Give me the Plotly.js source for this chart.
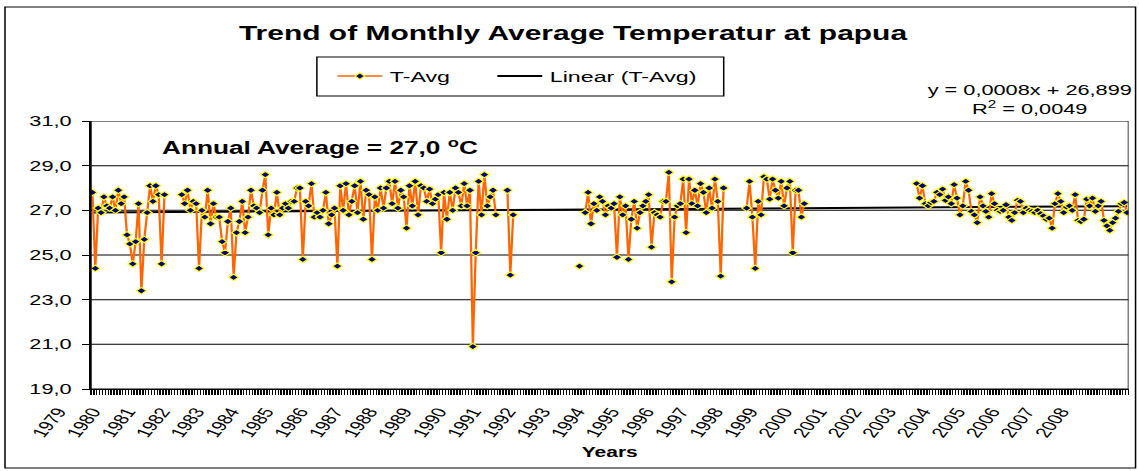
<!DOCTYPE html>
<html><head><meta charset="utf-8">
<script src="https://cdn.plot.ly/plotly-3.0.1.min.js"></script>
<style>
html,body{margin:0;padding:0;background:#fff;overflow:hidden}
#wrap{width:1139px;height:471px;overflow:hidden}
#chart{width:760px;height:471px;transform:scaleX(1.498684);transform-origin:0 0}
</style></head><body><div id="wrap"><div id="chart"></div></div>
<script>
// ---- data (months counted from Jan 1979 = 0) ----
const seriesName = 'T-Avg';
const trendName = 'Linear (T-Avg)';
const seg1Start = 0;     // Jan 1979
const seg1 = [
 27.8, 24.4, 27.1, 26.9, 27.6, 27.2, 27.1, 27.6, 27.0, 27.9, 27.3, 27.6,
 25.9, 25.5, 24.6, 25.6, 27.3, 23.4, 25.7, 26.9, 28.1, 27.4, 28.1, 27.7,
 24.6, 27.7, null, null, null, null, null, 27.7, 27.3, 27.9, 27.0, 27.4,
 27.3, 24.4, 27.0, 26.7, 27.9, 26.4, 27.3, 26.7, 26.7, 25.6, 25.1, 26.5,
 27.1, 24.0, 26.0, 26.5, 27.4, 26.0, 26.7, 27.9, 27.2, 27.1, 26.9, 27.9,
 28.6, 25.9, 27.1, 26.8, 27.8, 26.8, 27.1, 27.3, 27.1, 27.4, 27.4, 28.0,
 28.0, 24.8, 27.4, 27.2, 28.2, 26.7, 26.9, 26.7, 27.0, 27.8, 26.4, 26.8,
 27.1, 24.5, 28.1, 27.0, 28.2, 26.8, 27.4, 28.1, 26.9, 28.3, 26.6, 27.9,
 27.7, 24.8, 27.6, 27.0, 28.0, 27.1, 28.0, 28.3, 27.3, 28.3, 27.1, 27.9,
 27.6, 26.2, 28.1, 27.2, 28.3, 26.8, 28.1, 28.0, 27.4, 27.95, 27.3, 27.5,
 27.7, 25.1, 27.8, 26.6, 27.8, 27.0, 28.0, 27.8, 27.2, 28.2, 27.2, 27.9,
 20.9, 25.1, 28.3, 26.8, 28.6, 27.2, 27.6, 27.9, 26.8, null, null, null,
 27.9, 24.1, 26.8
];
const seg2Start = 169;   // Feb 1993
const seg2 = [
 24.5, null, 26.9, 27.8, 26.4, 27.3, 27.0, 27.6, 27.4, 26.8, 27.2, 27.1,
 27.3, 24.9, 27.6, 26.8, 27.2, 24.8, 26.6, 27.4, 26.2, 26.9, 27.2, 27.4,
 27.7, 25.35, 26.9, 26.8, 26.7, 27.4, 27.4, 28.7, 23.8, 26.7, 27.2, 27.3,
 28.4, 26.0, 28.4, 27.3, 27.9, 27.2, 28.2, 27.8, 26.9, 28.0, 27.1, 28.4,
 27.4, 24.05, 28.0, null, null, null, null, null, null, null, 27.1, 28.3, 26.7,
 24.4, 27.4, 26.8, 28.5, 28.4, 27.5, 28.4, 27.9, 27.55, 28.3, 27.2, 28.0,
 28.3, 25.1, 27.9, 27.9, 26.7, 27.3
];
const seg3Start = 286;   // Nov 2002
const seg3 = [
 28.2, 27.55, 28.1, 27.3, 27.2, 27.35, 27.4, 27.8, 27.7, 27.95, 27.45, 27.6,
 27.3, 28.15, 27.55, 26.8, 27.2, 28.3, 27.9, 26.95, 26.8, 26.45, 27.6, 27.2,
 26.95, 26.7, 27.75, 27.3, 27.0, 26.95, 27.0, 27.25, 26.7, 26.55, 26.9, 27.45,
 27.4, 26.9, 27.1, 27.0, 26.95, 26.9, 27.0, 26.85, 26.75, 26.6, 26.65, 26.2,
 27.3, 27.75, 27.4, 26.9, 27.15, 27.2, 27.0, 27.7, 26.55, 26.5, 26.6, 27.5,
 27.2, 27.55, 26.95, 27.2, 27.4, 26.55, 26.3, 26.1, 26.45, 26.65, 26.95, 27.3,
 27.35, 26.9
];
const totalMonths = 360;
const yearLabels = ['1979','1980','1981','1982','1983','1984','1985','1986','1987','1988',
 '1989','1990','1991','1992','1993','1994','1995','1996','1997','1998',
 '1999','2000','2001','2002','2003','2004','2005','2006','2007','2008'];
const trendSlope = 0.0008;
const trendIntercept = 26.899;
const equationText = 'y = 0,0008x + 26,899<br>R<sup>2</sup> = 0,0049';
const annualText = 'Annual Average = 27,0 <sup>o</sup>C';
const chartTitle = 'Trend of Monthly Average Temperatur at papua';
const xTitle = 'Years';
const yTicks = [19, 21, 23, 25, 27, 29, 31];

// ---- build series ----
const x = [], y = [];
function addSeg(start, vals){
  if (x.length) { x.push(start - 0.5); y.push(null); }
  vals.forEach((v, k) => { x.push(start + k); y.push(v); });
}
addSeg(seg1Start, seg1); addSeg(seg2Start, seg2); addSeg(seg3Start, seg3);

const trendX = [0, totalMonths - 1];
const trendY = trendX.map(i => trendIntercept + trendSlope * (i + 1));

// ---- geometry (unstretched px; page stretched horizontally by S) ----
const S = 1139 / 760;
const W = 760, H = 471;
const PL = 12, PR = 753.3, PT = 121, PB = 389;
const plotL = 60.72;
const monthW = (PR - plotL) / totalMonths;
const px = xs => (xs / S - PL) / (PR - PL);   // stretched page x -> paper
const py = ys => (PB - ys) / (PB - PT);        // page y -> paper
const labelOffset = (58 / S - plotL) / monthW - 0.5; // label anchor for first year
const tickvals = yearLabels.map((_, k) => labelOffset + 12 * k);

const FONT = 'Liberation Sans, Arial, Helvetica, sans-serif';

const traces = [
  {x: trendX, y: trendY, type: 'scatter', mode: 'lines', name: trendName,
   legend: 'legend2', line: {color: '#000000', width: 2}, hoverinfo: 'skip'},
  {x: x, y: y, type: 'scatter', mode: 'lines+markers', name: seriesName,
   legend: 'legend', connectgaps: false,
   line: {color: '#FF6600', width: 1.5},
   marker: {symbol: 'diamond', size: 5, color: '#000080', line: {color: '#FFFF00', width: 1}}},
  {x: [tickvals[0]], y: [null], xaxis: 'x2', yaxis: 'y', type: 'scatter', mode: 'markers',
   showlegend: false, hoverinfo: 'skip'}
];

const gridShapes = yTicks.slice(1, -1).map(v => ({
  type: 'line', xref: 'x', yref: 'y', x0: -0.5, x1: totalMonths - 0.5, y0: v, y1: v,
  line: {color: '#000', width: 1}, layer: 'below'}));

const legendCommon = {orientation: 'h', xanchor: 'left', yanchor: 'middle',
  bgcolor: 'rgba(0,0,0,0)', borderwidth: 0, font: {size: 15.5, color: '#000'}};

const layout = {
  width: W, height: H,
  margin: {l: PL, r: W - PR, t: PT, b: H - PB, pad: 0},
  paper_bgcolor: '#fff', plot_bgcolor: 'rgba(0,0,0,0)',
  separators: ',.',
  font: {family: FONT, color: '#000', size: 14},
  hovermode: false,
  title: {text: chartTitle, font: {size: 20, weight: 700, color: '#000'},
          x: 573 / 1139, xref: 'container', xanchor: 'center',
          y: 1 - 33 / H, yref: 'container', yanchor: 'middle'},
  showlegend: true,
  legend: Object.assign({x: px(330), y: py(76.5)}, legendCommon),
  legend2: Object.assign({x: px(490), y: py(76.5)}, legendCommon),
  xaxis: {domain: [(plotL - PL) / (PR - PL), 1], range: [-0.5, totalMonths - 0.5],
          tickmode: 'linear', tick0: -0.5, dtick: 1, ticks: 'outside', ticklen: 5,
          tickwidth: 1, tickcolor: '#000', showticklabels: false,
          showline: true, linecolor: '#000', linewidth: 1, showgrid: false, zeroline: false,
          title: {text: xTitle, font: {size: 14, weight: 700}, standoff: 53}},
  xaxis2: {domain: [0, 1], anchor: 'y', range: [-0.5 - (plotL - PL) / monthW, totalMonths - 0.5],
           tickmode: 'array', tickvals: tickvals, ticktext: yearLabels, tickangle: -60,
           ticks: '', showline: false, showgrid: false, zeroline: false, ticklabelstandoff: 11,
           tickfont: {size: 14, color: '#000'}},
  yaxis: {domain: [0, 1], range: [19, 31], tickmode: 'array', tickvals: yTicks,
          tickformat: '.1f', ticks: 'outside', ticklen: 5, tickcolor: '#000',
          showline: true, linecolor: '#000', linewidth: 1, showgrid: false, zeroline: false,
          tickfont: {size: 14.5, color: '#000'}, ticklabelstandoff: 4},
  shapes: gridShapes.concat([
    {type: 'rect', xref: 'x', yref: 'y', x0: -0.5, x1: totalMonths - 0.5, y0: 19, y1: 31,
     line: {color: '#000', width: 1}, layer: 'above'},
    {type: 'rect', xref: 'paper', yref: 'paper', x0: px(317), x1: px(724), y0: py(96), y1: py(57),
     line: {color: '#000', width: 1}, layer: 'above'},
    {type: 'rect', xref: 'paper', yref: 'paper', x0: px(5), x1: px(1136), y0: py(468), y1: py(7),
     line: {color: '#000', width: 1}, layer: 'above'}
  ]),
  annotations: [
    {text: equationText, xref: 'paper', yref: 'paper', x: px(1030), y: py(99),
     xanchor: 'center', yanchor: 'middle', align: 'center', showarrow: false,
     font: {size: 14.5, color: '#000'}},
    {text: annualText, xref: 'paper', yref: 'paper', x: px(320), y: py(147),
     xanchor: 'center', yanchor: 'middle', showarrow: false,
     font: {size: 17.5, weight: 700, color: '#000'}}
  ]
};

Plotly.newPlot('chart', traces, layout, {displayModeBar: false, staticPlot: true});
</script></body></html>
